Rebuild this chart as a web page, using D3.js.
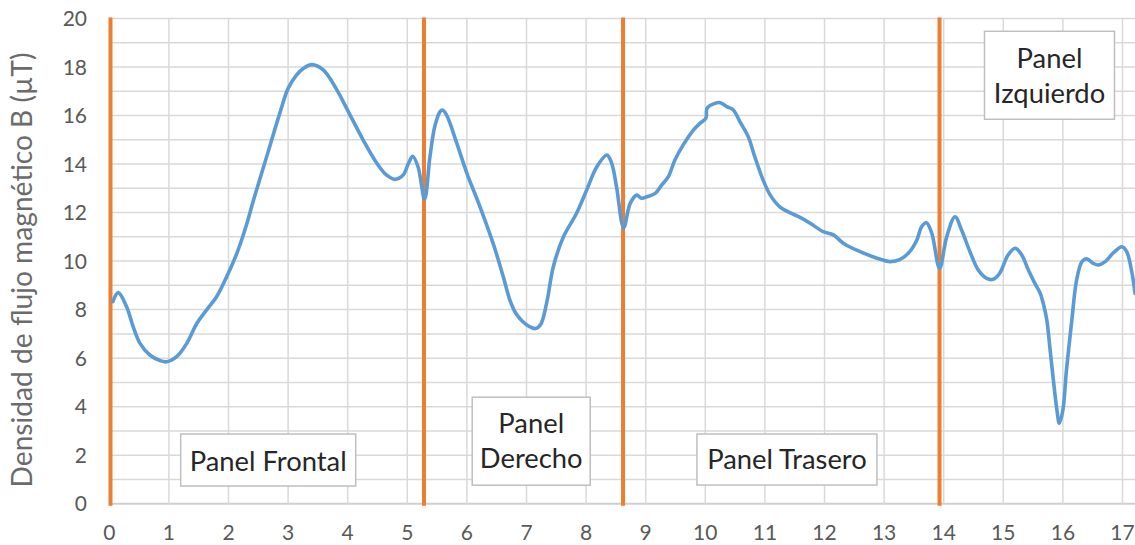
<!DOCTYPE html>
<html><head><meta charset="utf-8">
<script src="https://cdn.jsdelivr.net/npm/d3@7"></script>
<style>body{margin:0;background:#fff} svg{display:block}</style>
</head><body>
<svg id="chart" width="1135" height="545"></svg>
<script>
// ---- data ----
const distance = [0.06,0.15,0.29,0.40,0.515,0.68,0.85,0.963,1.13,1.30,1.47,1.63,1.80,1.97,2.14,2.31,2.42,2.64,2.86,3.0,3.14,3.26,3.40,3.59,3.82,4.04,4.26,4.49,4.65,4.79,4.93,5.02,5.09,5.18,5.29,5.38,5.46,5.55,5.59,5.66,5.83,6.0,6.22,6.44,6.61,6.72,6.82,6.94,7.05,7.15,7.24,7.34,7.45,7.62,7.84,8.01,8.18,8.35,8.43,8.51,8.63,8.74,8.85,8.93,9.02,9.16,9.27,9.38,9.49,9.63,9.80,9.91,10.01,10.03,10.16,10.25,10.36,10.47,10.58,10.72,10.83,10.97,11.09,11.25,11.42,11.59,11.76,11.98,12.15,12.32,12.6,12.88,13.1,13.27,13.43,13.55,13.63,13.71,13.8,13.93,14.05,14.19,14.3,14.44,14.58,14.72,14.83,14.94,15.08,15.2,15.31,15.42,15.53,15.62,15.67,15.73,15.78,15.84,15.9,15.94,16.0,16.06,16.15,16.23,16.32,16.4,16.51,16.59,16.71,16.85,16.99,17.07,17.16,17.21];
const fluxB = [8.33,8.7,8.12,7.3,6.61,6.13,5.9,5.85,6.06,6.61,7.44,7.98,8.53,9.36,10.32,11.56,12.52,14.3,16.09,17.12,17.67,17.95,18.1,17.88,17.05,16.02,14.99,14.03,13.55,13.37,13.55,14.03,14.32,13.89,12.55,14.3,15.54,16.16,16.23,16.02,14.86,13.62,12.24,10.73,9.36,8.4,7.85,7.5,7.3,7.22,7.4,8.3,9.77,11.0,11.97,12.93,13.89,14.37,14.03,13.07,11.38,12.38,12.72,12.59,12.65,12.79,13.14,13.48,14.17,14.79,15.4,15.68,15.89,16.3,16.5,16.53,16.37,16.23,15.75,15.13,14.3,13.34,12.72,12.24,12.0,11.8,11.56,11.21,11.08,10.73,10.39,10.12,9.98,10.07,10.39,10.87,11.42,11.58,11.15,9.7,11.0,11.83,11.28,10.39,9.63,9.29,9.25,9.5,10.25,10.53,10.25,9.63,9.08,8.67,8.26,7.57,6.47,5.1,3.86,3.31,3.86,5.51,7.57,9.22,9.98,10.09,9.91,9.84,9.98,10.35,10.59,10.39,9.5,8.67];
const panelBounds = [0.02, 5.28, 8.62, 13.93];
const xTicks = d3.range(0, 18, 1);
const yTicks = d3.range(0, 21, 2);
const yGrid = d3.range(0, 21, 1);
const panelLabels = [["Panel Frontal"], ["Panel", "Derecho"], ["Panel Trasero"], ["Panel", "Izquierdo"]];
const yTitle = "Densidad de flujo magnético B (µT)";

// ---- layout ----
const W = 1135, H = 545;
const x = d3.scaleLinear().domain([0, 17]).range([109.3, 1122.5]);
const y = d3.scaleLinear().domain([0, 20]).range([503.7, 18.5]);
const plotRight = W;
const FONT = "Lato, 'Open Sans', sans-serif";
// annotation box geometry (pixel sizes, centers in data units)
const boxLayout = [
  {cx: 2.666, cy: 1.80, w: 175, h: 52, base: [10.5]},
  {cx: 7.079, cy: 2.576, w: 118, h: 88, base: [-8, 27]},
  {cx: 11.37, cy: 1.82, w: 180, h: 51, base: [9]},
  {cx: 15.775, cy: 17.66, w: 130, h: 88, base: [-7, 28]}
];

const svg = d3.select("#chart");
svg.append("rect").attr("width", W).attr("height", H).attr("fill", "#fff");

function fitSize(text, targetWidth) {
  const t = svg.append("text").attr("font-family", FONT).attr("font-size", 100).text(text);
  const len = t.node().getComputedTextLength();
  t.remove();
  return 100 * targetWidth / len;
}

// gridlines
const g = svg.append("g");
g.selectAll("line.h").data(yGrid).join("line")
  .attr("x1", x(0)).attr("x2", plotRight)
  .attr("y1", d => y(d)).attr("y2", d => y(d))
  .attr("stroke", d => d === 0 ? "#cfcfcf" : "#d9d9d9")
  .attr("stroke-width", d => d === 0 ? 2 : 1.5);
g.selectAll("line.v").data(xTicks.filter(d => d > 0)).join("line")
  .attr("x1", d => x(d)).attr("x2", d => x(d))
  .attr("y1", y(20)).attr("y2", y(0))
  .attr("stroke", "#d9d9d9").attr("stroke-width", 1.5);

// tick labels
svg.append("g").selectAll("text").data(yTicks).join("text")
  .attr("x", 87).attr("y", d => y(d)).attr("dy", "0.36em")
  .attr("text-anchor", "end").attr("font-family", FONT).attr("font-size", 21)
  .attr("fill", "#595959").text(d => d);
svg.append("g").selectAll("text").data(xTicks).join("text")
  .attr("x", d => x(d)).attr("y", 540)
  .attr("text-anchor", "middle").attr("font-family", FONT).attr("font-size", 21)
  .attr("fill", "#595959").text(d => d);

// y title
const titleSize = fitSize(yTitle, 435);
svg.append("text")
  .attr("transform", `translate(32,${270}) rotate(-90)`)
  .attr("text-anchor", "middle").attr("font-family", FONT).attr("font-size", titleSize)
  .attr("fill", "#6b6b6b").text(yTitle);

// panel boundaries
svg.append("g").selectAll("line").data(panelBounds).join("line")
  .attr("x1", d => x(d)).attr("x2", d => x(d))
  .attr("y1", y(20) - 1).attr("y2", y(0) + 2)
  .attr("stroke", "#ed7d31").attr("stroke-width", 4);

// curve
const line = d3.line().x((d, i) => x(distance[i])).y((d, i) => y(fluxB[i])).curve(d3.curveCatmullRom.alpha(0.5));
svg.append("path").datum(fluxB).attr("d", line)
  .attr("fill", "none").attr("stroke", "#5b9bd5").attr("stroke-width", 3.6)
  .attr("stroke-linejoin", "round").attr("stroke-linecap", "round");

// annotation boxes
const labelSize = fitSize("Panel Frontal", 157);
const boxes = svg.append("g").selectAll("g").data(panelLabels).join("g")
  .attr("transform", (d, i) => `translate(${x(boxLayout[i].cx)},${y(boxLayout[i].cy)})`);
boxes.append("rect")
  .attr("x", (d, i) => -boxLayout[i].w / 2).attr("y", (d, i) => -boxLayout[i].h / 2)
  .attr("width", (d, i) => boxLayout[i].w).attr("height", (d, i) => boxLayout[i].h)
  .attr("fill", "#fff").attr("stroke", "#bfbfbf").attr("stroke-width", 1.5);
boxes.each(function(d, i) {
  d3.select(this).selectAll("text").data(d).join("text")
    .attr("x", 0).attr("y", (t, j) => boxLayout[i].base[j])
    .attr("text-anchor", "middle").attr("font-family", FONT).attr("font-size", labelSize)
    .attr("fill", "#262626").text(t => t);
});
</script>
</body></html>
